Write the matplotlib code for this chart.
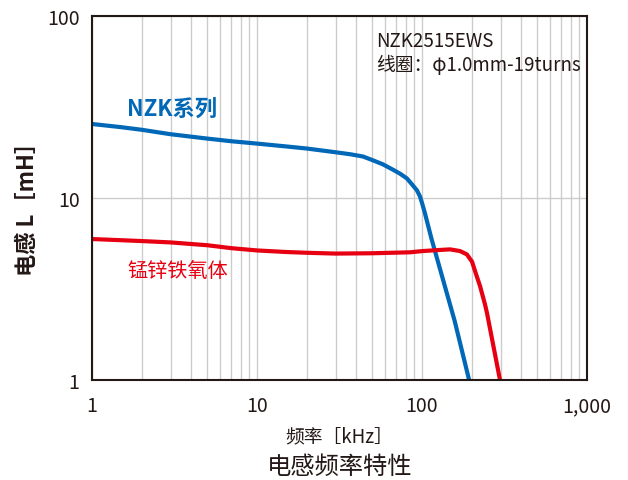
import numpy as np
import matplotlib.pyplot as plt
from matplotlib.ticker import FixedLocator, NullFormatter, LogLocator

plt.rcParams['font.family'] = ['Noto Sans CJK SC', 'DejaVu Sans']

# NZK series (blue)
nzk_freq = [1, 1.5, 2, 3, 5, 7, 10, 15, 20, 27.7, 36.6, 43.9, 50.5, 58, 66.7, 73.6,
            81.1, 88.2, 93.3, 97.2, 100, 104, 114, 158, 193]
nzk_L = [25.5, 24.5, 23.7, 22.4, 21.2, 20.5, 19.9, 19.2, 18.7, 18.0, 17.4, 16.9, 16.1,
         15.3, 14.3, 13.6, 12.8, 11.7, 11.0, 10.2, 9.4, 8.3, 6.0, 2.1, 1.0]

# Mn-Zn ferrite (red)
fer_freq = [1, 2, 3, 5, 7, 10, 15, 20, 30, 50, 84.6, 101, 123, 148, 170, 187, 201,
            210, 225, 241, 248, 297]
fer_L = [5.95, 5.8, 5.7, 5.5, 5.3, 5.15, 5.05, 5.0, 4.95, 4.97, 5.03, 5.11, 5.17,
         5.22, 5.11, 4.9, 4.47, 3.95, 3.27, 2.6, 2.32, 1.0]

x_ticks = [1, 10, 100, 1000]
x_labels = ['1', '10', '100', '1,000']
y_ticks = [1, 10, 100]
y_labels = ['1', '10', '100']

blue = '#0068b7'
red = '#e60012'
dark = '#231815'

fig = plt.figure(figsize=(6.28, 4.81), dpi=100)
ax = fig.add_axes([0.1465, 0.2079, 0.7882, 0.7568])

ax.plot(nzk_freq, nzk_L, color=blue, lw=3, solid_capstyle='butt', solid_joinstyle='round')
ax.plot(fer_freq, fer_L, color=red, lw=3, solid_capstyle='butt', solid_joinstyle='round')

ax.set_xscale('log')
ax.set_yscale('log')
ax.set_xlim(1, 1000)
ax.set_ylim(1, 100)

ax.set_xticks(x_ticks)
ax.set_xticklabels(x_labels)
ax.set_yticks(y_ticks)
ax.set_yticklabels(y_labels)
ax.xaxis.set_minor_locator(LogLocator(base=10, subs=np.arange(2, 10)))
ax.xaxis.set_minor_formatter(NullFormatter())
ax.yaxis.set_minor_locator(FixedLocator([]))

ax.grid(True, which='both', axis='x', color='#cccccc', lw=1)
ax.grid(True, which='major', axis='y', color='#cccccc', lw=1)
ax.set_axisbelow(True)

ax.tick_params(which='both', length=0, labelsize=14, colors=dark)
ax.tick_params(axis='x', pad=11)
ax.tick_params(axis='y', pad=9)
for s in ax.spines.values():
    s.set_color(dark)
    s.set_linewidth(1.5)

ax.text(0.0707, 0.745, 'NZK系列', transform=ax.transAxes, color=blue,
        fontsize=16, fontweight='bold', va='center', ha='left')
ax.text(0.0707, 0.30, '锰锌铁氧体', transform=ax.transAxes, color=red,
        fontsize=14.5, va='center', ha='left')
ax.text(0.574, 0.962, 'NZK2515EWS\n线圈：φ1.0mm-19turns', transform=ax.transAxes,
        color=dark, fontsize=13.5, va='top', ha='left', linespacing=1.2)

fig.text(0.043, 0.578, '电感 L［mH］', rotation=90, ha='center', va='center',
         fontsize=16, fontweight='bold', color=dark)
fig.text(0.54, 0.0915, '频率［kHz］', ha='center', va='center',
         fontsize=13.5, color=dark)
fig.text(0.541, 0.03, '电感频率特性', ha='center', va='center',
         fontsize=17.5, color=dark)

fig.savefig('out.png', dpi=100)
